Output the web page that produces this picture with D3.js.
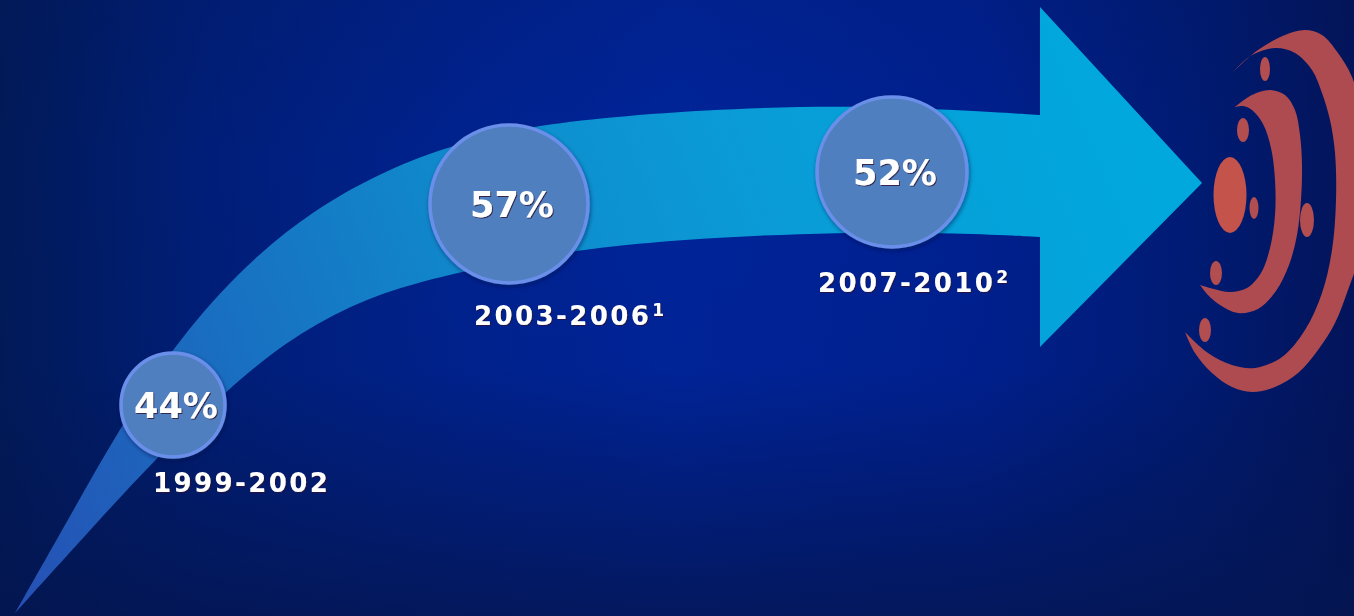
<!DOCTYPE html>
<html><head><meta charset="utf-8">
<script src="https://cdn.jsdelivr.net/npm/d3@7"></script>
<style>html,body{margin:0;padding:0;background:#001a80;overflow:hidden}</style>
</head><body><svg id="c" width="1354" height="616"></svg>
<script>
// ---- data ----
const periods = ["1999-2002", "2003-2006", "2007-2010"];
const footnotes = ["", "1", "2"];
const values = [44, 57, 52];

// ---- layout (positions / sizes, separate from data) ----
const bubbleX = [173, 509, 892];
const bubbleY = [405, 204, 172];
const bubbleR = [52, 79, 75];
const labelX = [153, 474, 818];
const labelY = [492, 325, 292];

const W = 1354, H = 616;
const svg = d3.select("#c");
const defs = svg.append("defs");

// background
const bgH = defs.append("linearGradient").attr("id", "bgH").attr("x1", 0).attr("y1", 0).attr("x2", 1).attr("y2", 0);
[[0, "#011a58"], [0.15, "#001e78"], [0.35, "#00228f"], [0.5, "#00249a"], [0.72, "#002090"], [0.88, "#001b74"], [1, "#03145a"]]
  .forEach(([o, c]) => bgH.append("stop").attr("offset", o).attr("stop-color", c));
const bot = defs.append("linearGradient").attr("id", "bot").attr("x1", 0).attr("y1", 0).attr("x2", 0).attr("y2", 1);
[[0, "#04154f", 0.15], [0.25, "#04154f", 0], [0.6, "#04154f", 0.05], [1, "#04154f", 0.8]]
  .forEach(([o, c, a]) => bot.append("stop").attr("offset", o).attr("stop-color", c).attr("stop-opacity", a));

svg.append("rect").attr("width", W).attr("height", H).attr("fill", "url(#bgH)");
svg.append("rect").attr("width", W).attr("height", H).attr("fill", "url(#bot)");

// arrow gradient
const ag = defs.append("linearGradient").attr("id", "ag").attr("gradientUnits", "userSpaceOnUse")
  .attr("x1", 15).attr("y1", 613).attr("x2", 1150).attr("y2", 150);
[[0, "#2650b4"], [0.22, "#1a6cc0"], [0.45, "#1088cb"], [0.7, "#0a9cd6"], [1, "#00a8de"]]
  .forEach(([o, c]) => ag.append("stop").attr("offset", o).attr("stop-color", c));

const upper = [[15, 613], [68, 520], [120, 427], [180, 337], [247, 263], [313, 210], [380, 173], [443, 148],
  [520, 128], [600, 118], [700, 110], [840, 105], [960, 110], [1040, 115]];
const lower = [[15, 613], [90, 530], [157, 457], [227, 390], [285, 342], [350, 305], [415, 282], [520, 259],
  [600, 247], [700, 238], [840, 232], [960, 233], [1040, 237]];
const head = [[1040, 115], [1040, 7], [1202, 183], [1040, 347], [1040, 237]];

const curve = d3.line().curve(d3.curveBasis);
const lin = d3.line();
const pU = curve(upper);
const pH = lin(head).replace(/^M/, "L");
const pL = curve(lower.slice().reverse()).replace(/^M/, "L");
svg.append("path").attr("d", pU + pH + pL + "Z").attr("fill", "url(#ag)");

// ---- target icon ----
const red = "#ad4b51";
const seg = d3.line().curve(d3.curveCatmullRom.alpha(0.5));
function crescent(outer, inner) {
  return seg(outer) + seg(inner).replace(/^M/, "L") + "Z";
}
const c1Out = [[1232, 73], [1258, 50], [1285, 35], [1305, 30], [1322, 35], [1338, 53], [1352, 77], [1363, 120],
  [1368, 180], [1364, 240], [1348, 290], [1335, 323], [1318, 350], [1298, 373], [1275, 387], [1252, 392],
  [1232, 387], [1212, 373], [1195, 353], [1185, 332]];
const c1In = [[1185, 332], [1208, 353], [1232, 365], [1255, 368], [1282, 357], [1305, 330], [1322, 293],
  [1332, 250], [1336, 200], [1335, 153], [1330, 120], [1322, 93], [1312, 70], [1295, 53], [1275, 48], [1252, 55], [1232, 73]];
const c2Out = [[1235, 107], [1252, 95], [1270, 90], [1285, 95], [1295, 110], [1300, 135], [1302, 165], [1301, 200],
  [1297, 235], [1289, 265], [1276, 291], [1258, 309], [1238, 313], [1220, 305], [1208, 295], [1200, 285]];
const c2In = [[1200, 285], [1214, 289], [1230, 292], [1247, 288], [1261, 273], [1270, 248], [1275, 215], [1275, 180],
  [1271, 148], [1263, 124], [1252, 110], [1243, 106], [1235, 107]];
svg.append("path").attr("d", crescent(c1Out, c1In)).attr("fill", red);
svg.append("path").attr("d", crescent(c2Out, c2In)).attr("fill", red);
const dots = [[1265, 69, 5, 12], [1243, 130, 6, 12], [1254, 208, 4.5, 11], [1307, 220, 7, 17], [1216, 273, 6, 12], [1205, 330, 6, 12]];
svg.selectAll(".dot").data(dots).join("ellipse").attr("class", "dot")
  .attr("cx", d => d[0]).attr("cy", d => d[1]).attr("rx", d => d[2]).attr("ry", d => d[3]).attr("fill", "#b24d50");
svg.append("ellipse").attr("cx", 1230).attr("cy", 195).attr("rx", 16.5).attr("ry", 38).attr("fill", "#c4534b");

// ---- bubbles ----
const sh = defs.append("filter").attr("id", "sh").attr("x", "-20%").attr("y", "-20%").attr("width", "150%").attr("height", "150%");
sh.append("feDropShadow").attr("dx", 1).attr("dy", 2).attr("stdDeviation", 2).attr("flood-color", "#001040").attr("flood-opacity", 0.5);
const ts = defs.append("filter").attr("id", "ts").attr("x", "-10%").attr("y", "-20%").attr("width", "130%").attr("height", "150%");
ts.append("feDropShadow").attr("dx", 1).attr("dy", 1).attr("stdDeviation", 0.6).attr("flood-color", "#301030").attr("flood-opacity", 0.8);

const idx = d3.range(values.length);
const g = svg.append("g");
g.selectAll("circle.b").data(idx).join("circle").attr("class", "b")
  .attr("cx", i => bubbleX[i]).attr("cy", i => bubbleY[i]).attr("r", i => bubbleR[i])
  .attr("fill", "#4f7fbf").attr("stroke", "#6b8fea").attr("stroke-width", 3.5).attr("filter", "url(#sh)");
g.selectAll("text.v").data(idx).join("text").attr("class", "v")
  .attr("x", i => bubbleX[i] + 3).attr("y", i => bubbleY[i] + 13)
  .attr("text-anchor", "middle").attr("fill", "#ffffff")
  .attr("font-family", "DejaVu Sans, Verdana, sans-serif").attr("font-weight", "bold").attr("font-size", 35)
  .attr("filter", "url(#ts)")
  .text(i => values[i] + "%");

const lab = g.selectAll("text.p").data(idx).join("text").attr("class", "p")
  .attr("x", i => labelX[i]).attr("y", i => labelY[i]).attr("fill", "#ffffff")
  .attr("font-family", "DejaVu Sans, Verdana, sans-serif").attr("font-weight", "bold").attr("font-size", 26)
  .attr("letter-spacing", 2.4).attr("filter", "url(#ts)");
lab.append("tspan").text(i => periods[i]);
lab.append("tspan").attr("font-size", 17).attr("dy", -9).attr("dx", 1).attr("letter-spacing", 0).text(i => footnotes[i]);
</script></body></html>
